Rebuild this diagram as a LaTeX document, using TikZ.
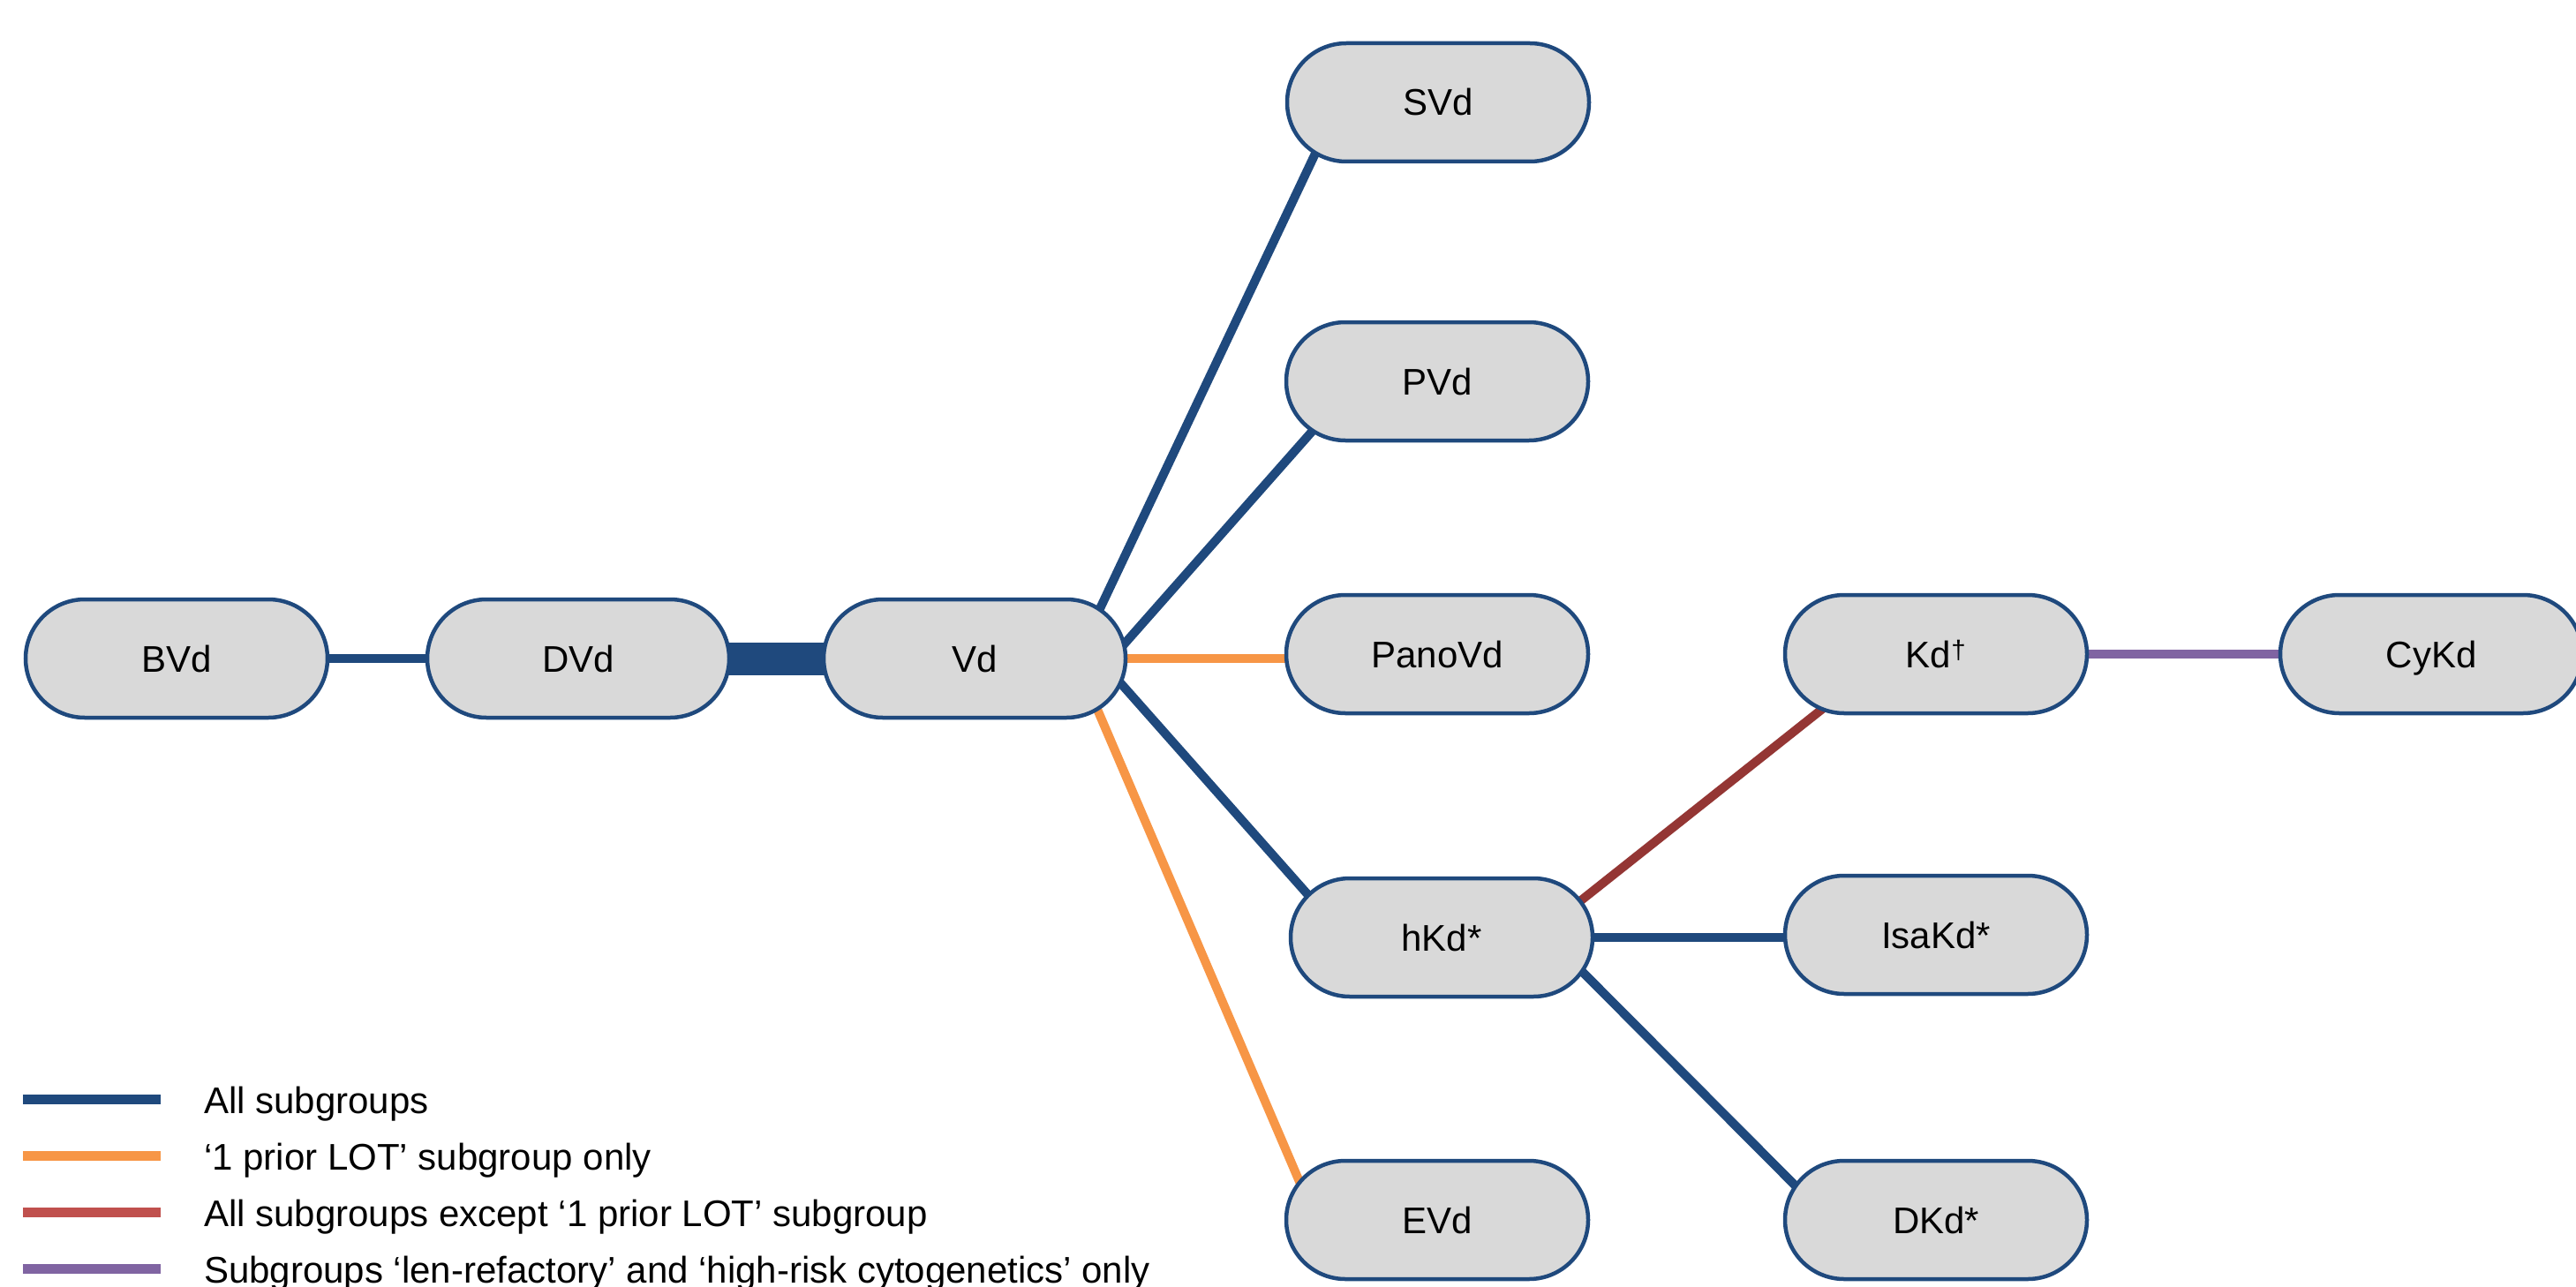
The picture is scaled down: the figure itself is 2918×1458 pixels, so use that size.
\documentclass[tikz,border=0pt]{standalone}
\usepackage{fontspec}
\setmainfont{Liberation Sans}
\usetikzlibrary{shapes.misc,backgrounds}
\definecolor{linkblue}{HTML}{1F497D}
\definecolor{linkorange}{HTML}{F79646}
\definecolor{linkred}{HTML}{943634}
\definecolor{keyred}{HTML}{C0504D}
\definecolor{linkpurple}{HTML}{8064A2}
\definecolor{boxfill}{HTML}{D9D9D9}
\begin{document}
\begin{tikzpicture}[x=1pt,y=-1pt,
  regimen/.style={rounded rectangle, draw=linkblue, line width=4.5pt, fill=boxfill,
    minimum width=342pt, minimum height=134pt, inner sep=0pt,
    text height=30pt, text depth=0pt, font=\fontsize{42}{50}\selectfont},
  link/.style={line width=10pt, shorten <=-8pt, shorten >=-8pt},
  keyline/.style={line width=11pt},
  keytext/.style={anchor=base west, inner sep=0pt, font=\fontsize{42}{50}\selectfont}]
\useasboundingbox (0,0) rectangle (2918,1458);

% treatment nodes
\node[regimen] (BVd)    at (200,746)  {BVd};
\node[regimen] (DVd)    at (655,746)  {DVd};
\node[regimen] (Vd)     at (1104,746) {Vd};
\node[regimen] (SVd)    at (1629,116) {SVd};
\node[regimen] (PVd)    at (1628,432) {PVd};
\node[regimen] (PanoVd) at (1628,741) {PanoVd};
\node[regimen] (hKd)    at (1633,1062) {hKd*};
\node[regimen] (EVd)    at (1628,1382) {EVd};
\node[regimen] (Kd)     at (2193,741) {Kd\textsuperscript{†}};
\node[regimen] (IsaKd)  at (2193,1059) {IsaKd*};
\node[regimen] (DKd)    at (2193,1382) {DKd*};
\node[regimen] (CyKd)   at (2754,741) {CyKd};

% comparisons, kept behind the boxes
\begin{scope}[on background layer]
\draw[link, linkblue] (BVd.east) -- (DVd.west);
\draw[link, linkblue, line width=37pt] (DVd.east) -- (Vd.west);
\draw[link, linkblue] (Vd.22) -- (SVd.203);
\draw[link, linkblue] (Vd.6) -- (PVd.202);
\draw[link, linkorange] (Vd.east) -- (Vd.east -| PanoVd.west);
\draw[link, linkblue] (Vd.-10) -- (hKd.162);
\draw[link, linkorange] (Vd.-23) -- (EVd.164);
\draw[link, linkred] (hKd.15) -- (Kd.206);
\draw[link, linkblue] (hKd.east) -- (hKd.east -| IsaKd.west);
\draw[link, linkblue] (hKd.-14) -- (DKd.166);
\draw[link, linkpurple] (Kd.east) -- (Kd.east -| CyKd.west);
\end{scope}

% key
\coordinate (k1a) at (26,1245); \coordinate (k1b) at (182,1245);
\coordinate (k2a) at (26,1309); \coordinate (k2b) at (182,1309);
\coordinate (k3a) at (26,1373); \coordinate (k3b) at (182,1373);
\coordinate (k4a) at (26,1437); \coordinate (k4b) at (182,1437);
\draw[keyline, linkblue]   (k1a) -- (k1b);
\draw[keyline, linkorange] (k2a) -- (k2b);
\draw[keyline, keyred]     (k3a) -- (k3b);
\draw[keyline, linkpurple] (k4a) -- (k4b);
\node[keytext] (t1) at (231,1261) {All subgroups};
\node[keytext] (t2) at (231,1325) {‘1 prior LOT’ subgroup only};
\node[keytext] (t3) at (231,1389) {All subgroups except ‘1 prior LOT’ subgroup};
\node[keytext] (t4) at (231,1453) {Subgroups ‘len-refactory’ and ‘high-risk cytogenetics’ only};
\end{tikzpicture}
\end{document}
